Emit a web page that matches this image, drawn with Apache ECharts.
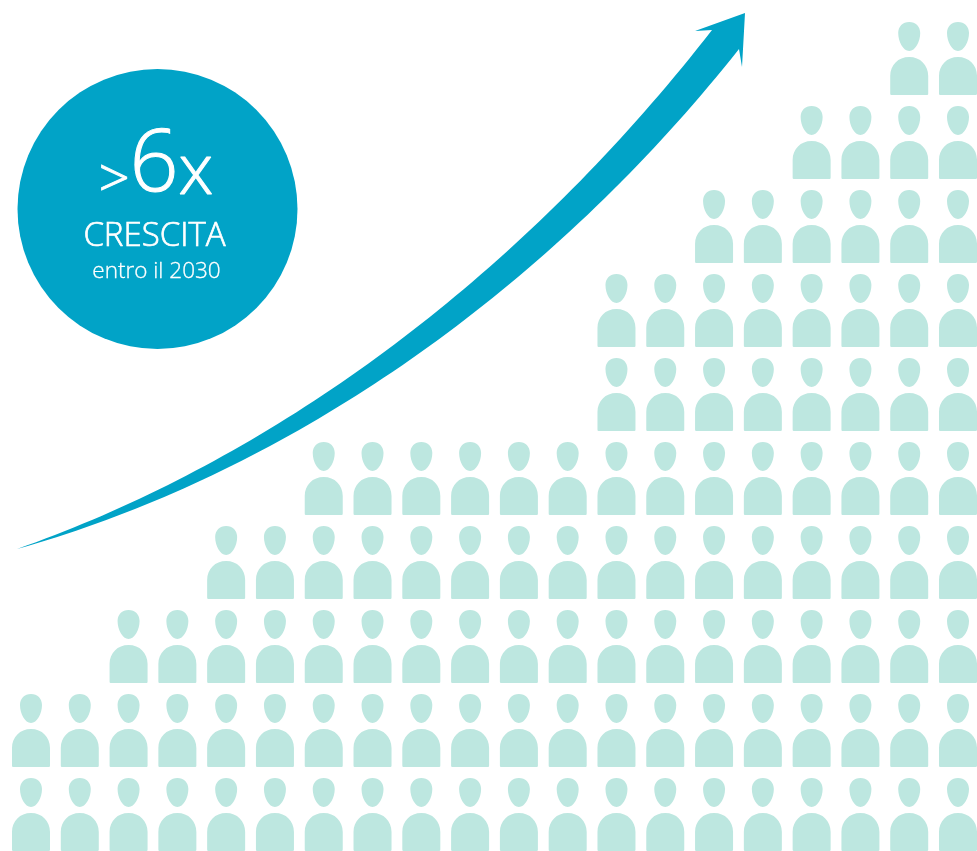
<!DOCTYPE html>
<html><head><meta charset="utf-8">
<style>html,body{margin:0;padding:0;background:#fff}#c{width:977px;height:851px}</style>
<script src="https://cdn.jsdelivr.net/npm/echarts@6/dist/echarts.min.js"></script>
</head><body><div id="c"></div>
<script>
const categories = ['1','2','3','4','5','6','7','8','9','10','11','12','13','14','15','16','17','18','19','20'];
const peopleRows = [2,2,3,3,4,4,5,5,5,5,5,5,7,7,8,8,9,9,10,10];
const subtitle = 'CRESCITA', note = 'entro il 2030';
const PERSON = 'path://M19 0C25.5 0 30 4.5 30 11C30 19.5 25 29 19 29C13 29 8 19.5 8 11C8 4.5 12.5 0 19 0Z' +
  'M1 73C0 73 0 72 0 71L0 54C0 43 8 35 19 35C30 35 38 43 38 54L38 71C38 72 38 73 37 73Z';
const BLUE = '#01A3C7', MINT = '#BDE7E0';
const FONT = '"Open Sans"';
function bez(p0,p1,p2,p3,n){
  const out=[];
  for(let i=0;i<=n;i++){
    const t=i/n,u=1-t;
    out.push([0,1].map(k=>u*u*u*p0[k]+3*u*u*t*p1[k]+3*u*t*t*p2[k]+t*t*t*p3[k]));
  }
  return out;
}
const arrowOutline = [
  ...bez([17,549],[270,460],[515,283],[712,30],80),
  [695,31],[745,13],[742,67],
  ...bez([739,49],[540,300],[280,475],[17,549],80)
];
const big = size => ({fontFamily:FONT,fontWeight:300,fontSize:size,fill:'#fff',verticalAlign:'bottom',stroke:'#fff',lineWidth:1});
const chart = echarts.init(document.getElementById('c'), null, {renderer:'canvas'});
chart.setOption({
  animation:false,
  backgroundColor:'#fff',
  grid:{left:6.6,width:975.8,top:16.5,height:840,containLabel:false,outerBoundsMode:'none'},
  xAxis:{type:'category',data:categories,show:false},
  yAxis:{type:'value',min:0,max:10,interval:1,show:false},
  series:[{
    type:'pictorialBar',
    data:peopleRows,
    symbol:PERSON,
    symbolRepeat:true,
    symbolSize:[38,73],
    symbolMargin:'5.5!',
    symbolPosition:'start',
    silent:true,
    clip:false,
    itemStyle:{color:MINT}
  }],
  graphic:[
    {type:'polygon',shape:{points:arrowOutline},style:{fill:BLUE},z:5},
    {type:'circle',shape:{cx:157.5,cy:209,r:140},style:{fill:BLUE},z:6},
    {type:'text',x:156,y:209,z:7,style:{
      text:'{a|>}{b|6}{c|x}',align:'center',verticalAlign:'bottom',fill:'#fff',
      rich:{a:big(54),b:big(86),c:big(70)}}},
    {type:'text',x:154.5,y:237,z:7,style:{text:subtitle,align:'center',verticalAlign:'middle',
      fontFamily:FONT,fontWeight:300,fontSize:33,fill:'#fff',stroke:'#fff',lineWidth:0.7}},
    {type:'text',x:156.5,y:272,z:7,style:{text:note,align:'center',verticalAlign:'middle',
      fontFamily:FONT,fontWeight:300,fontSize:22.5,fill:'#fff',stroke:'#fff',lineWidth:0.3}}
  ]
});
</script></body></html>
